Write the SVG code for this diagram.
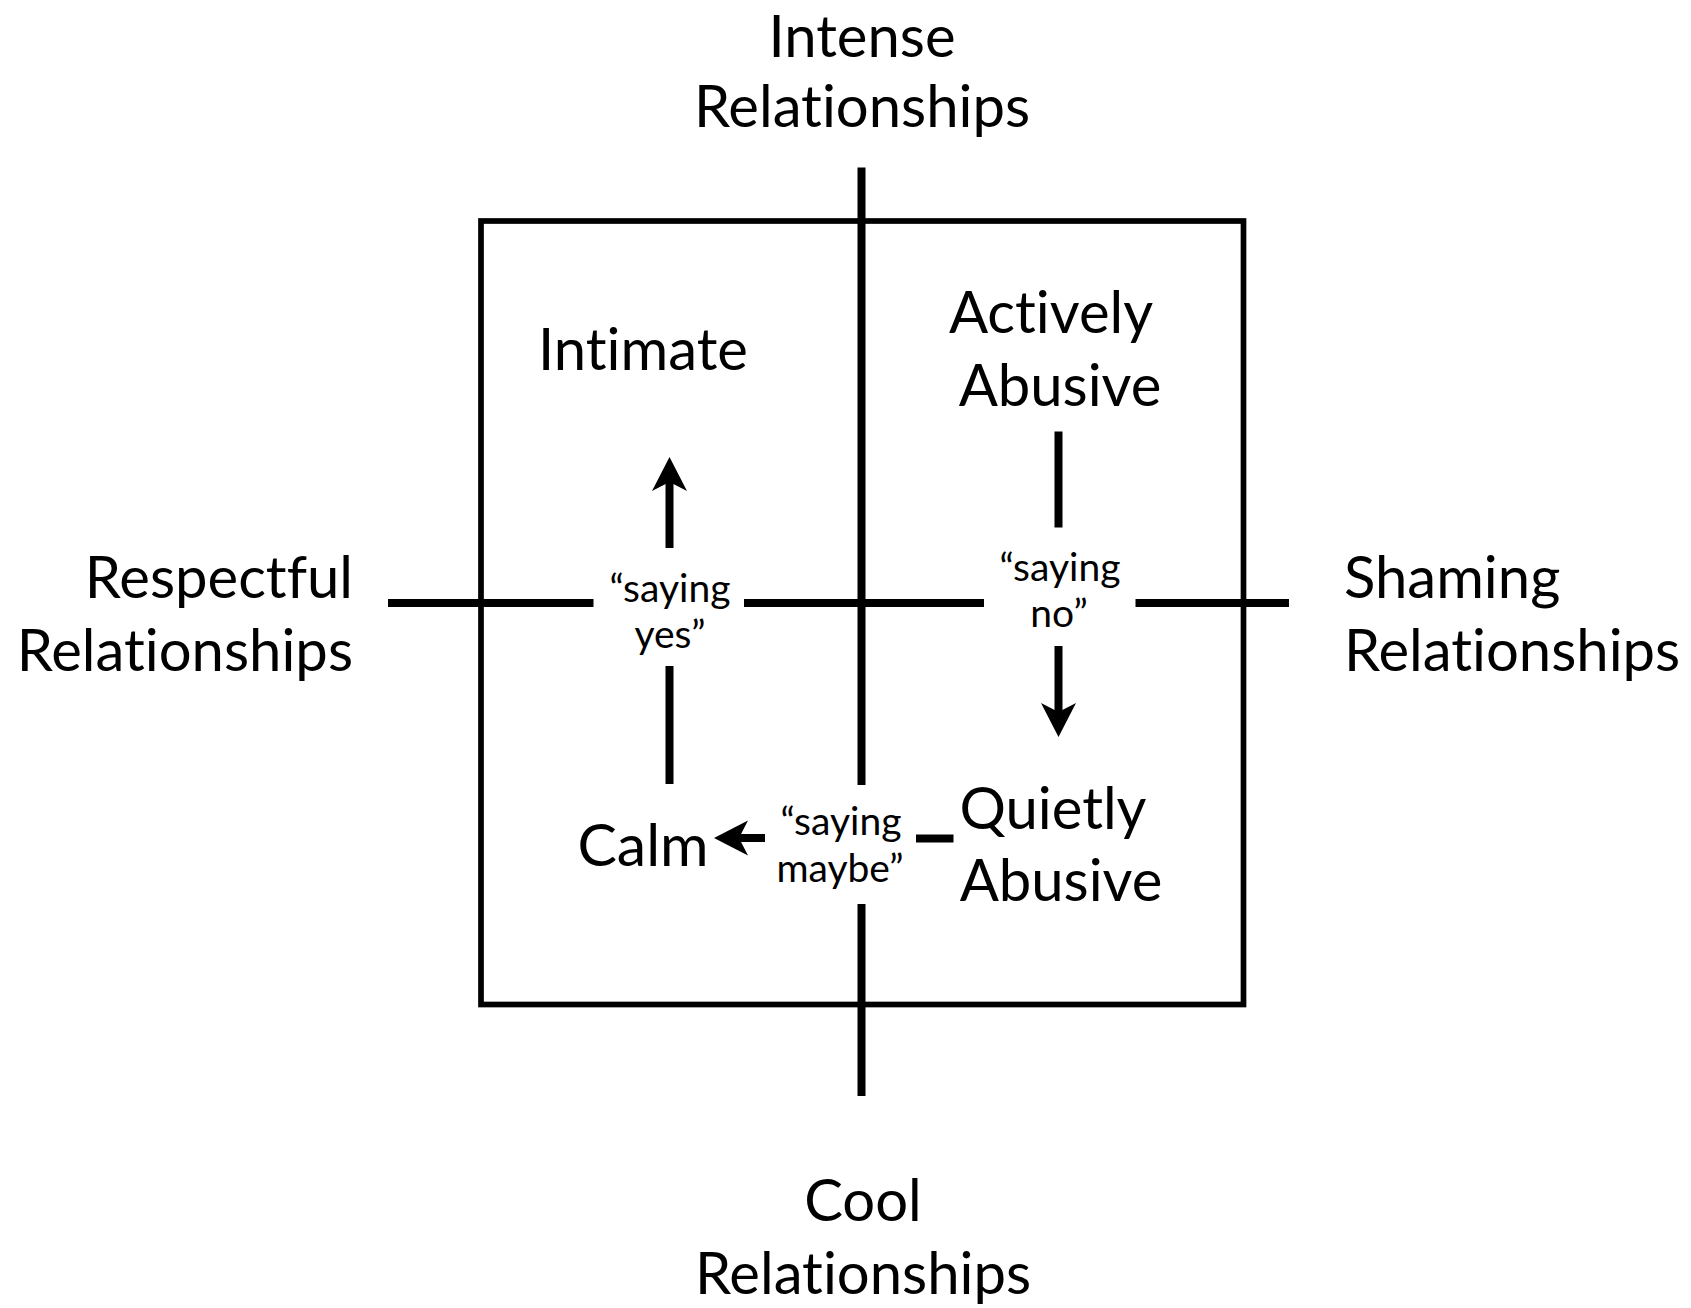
<svg xmlns="http://www.w3.org/2000/svg" width="1691" height="1308" viewBox="0 0 1691 1308">
<style>
  text { font-family: "Lato", "Liberation Sans", sans-serif; fill: #000; font-variant-ligatures: none; font-feature-settings: "liga" 0, "clig" 0; }
  .big { font-size: 58px; }
  .small { font-size: 39px; }
  .mid { text-anchor: middle; }
  .end { text-anchor: end; }
  .axis { stroke: #000; stroke-width: 8; fill: none; }
  .frame { stroke: #000; stroke-width: 5.7; fill: none; }
  .conn { stroke: #000; stroke-width: 8; fill: none; }
</style>
<defs>
  <marker id="ah" markerUnits="userSpaceOnUse" markerWidth="36" markerHeight="36" viewBox="0 -18 36 36" refX="9" refY="0" orient="auto" overflow="visible">
    <path d="M34,0 L0,-17.5 L9,0 L0,17.5 Z" fill="#000"/>
  </marker>
</defs>
<rect width="1691" height="1308" fill="#fff"/>

<g id="frame">
  <rect class="frame" x="481" y="221" width="762.5" height="783.5"/>
</g>

<g id="axes">
  <line class="axis" x1="861.5" y1="167.5" x2="861.5" y2="785"/>
  <line class="axis" x1="861.5" y1="904" x2="861.5" y2="1096"/>
  <line class="axis" x1="388" y1="603" x2="593.5" y2="603"/>
  <line class="axis" x1="744" y1="603" x2="984" y2="603"/>
  <line class="axis" x1="1135.5" y1="603" x2="1289" y2="603"/>
</g>

<g id="label-intense">
  <text class="big mid" x="862" y="57">Intense</text>
  <text class="big mid" x="862" y="127">Relationships</text>
</g>
<g id="label-cool">
  <text class="big mid" x="863" y="1221">Cool</text>
  <text class="big mid" x="863" y="1294">Relationships</text>
</g>
<g id="label-respectful">
  <text class="big end" x="353" y="598">Respectful</text>
  <text class="big end" x="353" y="671">Relationships</text>
</g>
<g id="label-shaming">
  <text class="big" x="1344" y="598">Shaming</text>
  <text class="big" x="1344" y="671">Relationships</text>
</g>

<g id="node-intimate">
  <text class="big mid" x="643" y="370">Intimate</text>
</g>
<g id="node-actively-abusive">
  <text class="big mid" x="1051" y="333">Actively</text>
  <text class="big mid" x="1060" y="406">Abusive</text>
</g>
<g id="node-quietly-abusive">
  <text class="big mid" x="1053" y="829">Quietly</text>
  <text class="big mid" x="1061" y="901">Abusive</text>
</g>
<g id="node-calm">
  <text class="big mid" x="643" y="866" style="font-size:59px">Calm</text>
</g>

<g id="connectors">
  <g id="conn-yes">
    <line class="conn" x1="669.5" y1="784" x2="669.5" y2="666"/>
    <line class="conn" x1="669.5" y1="548" x2="669.5" y2="482" marker-end="url(#ah)"/>
    <text class="small mid" x="670" y="602">“saying</text>
    <text class="small mid" x="670" y="648">yes”</text>
  </g>
  <g id="conn-no">
    <line class="conn" x1="1058.5" y1="431.5" x2="1058.5" y2="527.5"/>
    <line class="conn" x1="1058.5" y1="646" x2="1058.5" y2="712" marker-end="url(#ah)"/>
    <text class="small mid" x="1060" y="581">“saying</text>
    <text class="small mid" x="1059" y="627">no”</text>
  </g>
  <g id="conn-maybe">
    <line class="conn" x1="953.5" y1="838.5" x2="916" y2="838.5"/>
    <line class="conn" x1="765" y1="838" x2="739" y2="838" marker-end="url(#ah)"/>
    <text class="small mid" x="841" y="835">“saying</text>
    <text class="small mid" x="840" y="882">maybe”</text>
  </g>
</g>
</svg>
